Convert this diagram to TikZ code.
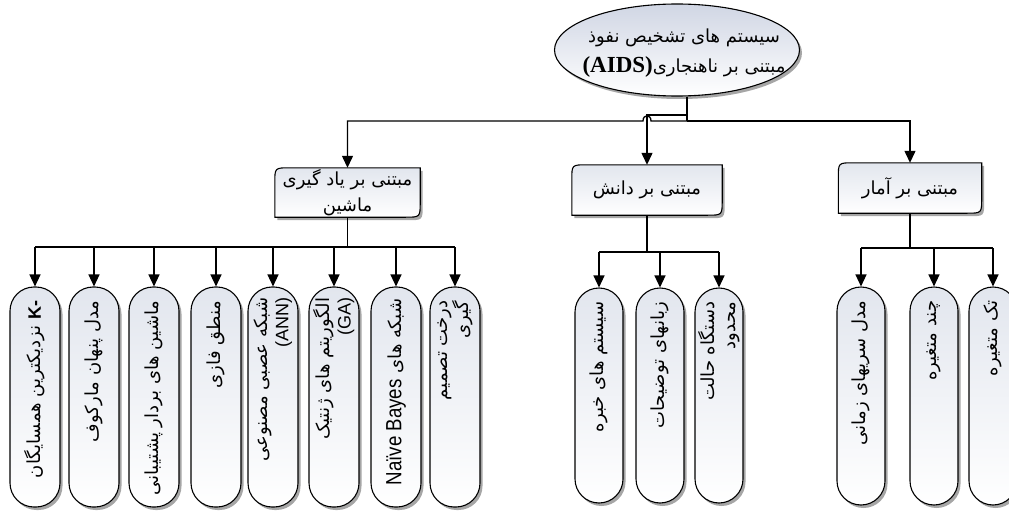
\documentclass[tikz,border=0pt]{standalone}
\usepackage{fontspec}
\newfontfamily\farsi[Script=Arabic]{DejaVu Sans}
\newfontfamily\latinsans{Liberation Sans}
\newfontfamily\narrowsans[FakeStretch=0.85]{Liberation Sans}
\newfontfamily\latinserif{Liberation Serif}
\TeXXeTstate=1
\usetikzlibrary{arrows.meta,shadows,backgrounds,shapes.geometric,calc}
\newcommand\fa[1]{\beginR #1\endR}
\newcommand\la[1]{\beginL{#1}\endL{}}
\definecolor{topshade}{RGB}{226,230,238}
\definecolor{ellshade}{RGB}{208,214,228}
\newcommand\drawcornerbox[1]{%
  \path[cbox] ([yshift=-15pt]#1.north west) .. controls (#1.north west) .. ([xshift=15pt]#1.north west)
    -- (#1.north east) -- ([yshift=15pt]#1.south east) .. controls (#1.south east) .. ([xshift=-15pt]#1.south east)
    -- (#1.south west) -- cycle;}
\tikzset{
  conn/.style={line width=1.3pt, draw=black},
  arr/.style={conn, -{Triangle[width=11pt,length=12pt]}},
  shadeit/.style={top color=topshade, bottom color=white},
  shad/.style={drop shadow={shadow xshift=2.5pt, shadow yshift=-3pt, fill=black, opacity=0.35}},
  pill/.style={draw, line width=1.1pt, rounded corners=24pt, minimum width=50pt, minimum height=220pt, shadeit, shad, inner sep=0pt},
  ptext/.style={rotate=90, anchor=east, font=\farsi\fontsize{18}{21}\selectfont, align=right, inner sep=0pt},
  cbox/.style={draw, line width=1.1pt, shadeit, shad},
  boxtext/.style={inner sep=0pt, align=center, font=\farsi\fontsize{18}{26}\selectfont},
}
\begin{document}
\begin{tikzpicture}[x=1pt,y=-1pt]
\useasboundingbox (0,0) rectangle (1009,516);
% root
\node[ellipse, draw, line width=1.1pt, minimum width=245pt, minimum height=92pt, top color=ellshade, bottom color=white, shad] (e) at (677,50) {};
\node[align=center, inner sep=0pt, font=\farsi\fontsize{18}{30}\selectfont] (et) at (684,53)
  {\fa{سیستم های تشخیص نفوذ}\\\fa{مبتنی بر ناهنجاری\la{\latinserif\bfseries\fontsize{23}{23}\selectfont(AIDS)}}};
% level 2
\node[boxtext, minimum width=145pt, minimum height=49pt] (A) at (347.5,192.5) {\fa{مبتنی بر یاد گیری}\\\fa{ماشین}};
\node[boxtext, minimum width=150pt, minimum height=50pt] (B) at (647,190) {\fa{مبتنی بر دانش}};
\node[boxtext, minimum width=143pt, minimum height=50pt] (C) at (910,188) {\fa{مبتنی بر آمار}};
\begin{scope}[on background layer]
\drawcornerbox{A}
\drawcornerbox{B}
\drawcornerbox{C}
\end{scope}
% connectors from root
\coordinate (j) at (687,121);
\coordinate (jm) at (687,115);
\coordinate (h1) at (651,121);
\coordinate (h2) at (643,121);
\draw[conn] (e.south -| j) -- (j);
\draw[arr] (e.south -| jm) -- (jm) -- (jm -| B.north) -- (B.north);
\draw[arr] (j) -- (h1) .. controls ([yshift=7pt]h1) and ([yshift=7pt]h2) .. (h2) -- (h2 -| A.north) -- (A.north);
\draw[arr] (j) -- (j -| C.north) -- (C.north);
% pills
\foreach \n/\x in {l1/35,l2/94,l3/154,l4/216,l5/273,l6/334,l7/396,l8/455}
  \node[pill] (\n) at (\x,397) {};
\foreach \n/\x in {m1/599,m2/660,m3/719}
  \node[pill, minimum width=48pt, minimum height=215pt] (\n) at (\x,395.5) {};
\foreach \n/\x in {r1/861,r2/934,r3/993}
  \node[pill, minimum width=48pt, minimum height=218pt] (\n) at (\x,396) {};
% texts
\node[ptext] (l1t) at ([yshift=-14pt]l1.north) {\fa{\la{\latinsans\bfseries K-} نزدیکترین همسایگان}};
\node[ptext] (l2t) at ([yshift=-14pt]l2.north) {\fa{مدل پنهان مارکوف}};
\node[ptext] (l3t) at ([yshift=-14pt]l3.north) {\fa{ماشین های بردار پشتیبانی}};
\node[ptext] (l4t) at ([yshift=-14pt]l4.north) {\fa{منطق فازی}};
\node[ptext] (l5t) at ([yshift=-11pt]l5.north) {\fa{شبکه عصبی مصنوعی}\\\fa{\la{\latinsans\fontsize{18}{18}\selectfont(ANN)}}};
\node[ptext] (l6t) at ([yshift=-11pt]l6.north) {\fa{الگوریتم های ژنتیک}\\\fa{\la{\latinsans\fontsize{18}{18}\selectfont(GA)}}};
\node[ptext] (l7t) at ([yshift=-12pt]l7.north) {\fa{شبکه های \la{\narrowsans\fontsize{22}{22}\selectfont Naïve Bayes}}};
\node[ptext] (l8t) at ([yshift=-14pt]l8.north) {\fa{درخت تصمیم}\\\fa{گیری}};
\node[ptext] (m1t) at ([yshift=-14pt]m1.north) {\fa{سیستم های خبره}};
\node[ptext] (m2t) at ([yshift=-14pt]m2.north) {\fa{زبانهای توضیحات}};
\node[ptext] (m3t) at ([yshift=-14pt]m3.north) {\fa{دستگاه حالت}\\\fa{محدود}};
\node[ptext] (r1t) at ([yshift=-14pt]r1.north) {\fa{مدل سریهای زمانی}};
\node[ptext] (r2t) at ([yshift=-14pt]r2.north) {\fa{چند متغیره}};
\node[ptext] (r3t) at ([yshift=-14pt]r3.north) {\fa{تک متغیره}};
% buses
\coordinate (ab) at (347.5,247);
\coordinate (bb) at (647,252);
\coordinate (cb) at (910,248);
\draw[conn] (A.south) -- (ab);
\draw[conn] (ab -| l1.north) -- (ab -| l8.north);
\foreach \n in {l1,l2,l3,l4,l5,l6,l7,l8} \draw[arr] (ab -| \n.north) -- (\n.north);
\draw[conn] (B.south) -- (bb);
\draw[conn] (bb -| m1.north) -- (bb -| m3.north);
\foreach \n in {m1,m2,m3} \draw[arr] (bb -| \n.north) -- (\n.north);
\draw[conn] (C.south) -- (cb);
\draw[conn] (cb -| r1.north) -- (cb -| r3.north);
\foreach \n in {r1,r2,r3} \draw[arr] (cb -| \n.north) -- (\n.north);
\end{tikzpicture}
\end{document}
